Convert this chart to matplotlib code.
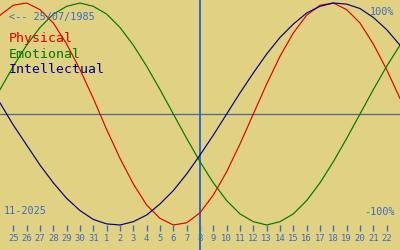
import matplotlib
matplotlib.use("Agg")
import matplotlib.pyplot as plt

# ---- data (percent values read per day, 24 Oct .. 23 Nov) ----
day_labels = ["25", "26", "27", "28", "29", "30", "31", "1", "2", "3", "4", "5", "6", "7",
              "8", "9", "10", "11", "12", "13", "14", "15", "16", "17", "18", "19", "20", "21", "22"]
physical = [89, 98, 100, 94, 82, 63, 40, 14, -14, -40, -63, -82, -94, -100, -98, -89,
            -73, -52, -27, 0, 27, 52, 73, 89, 98, 100, 94, 82, 63, 40, 14]
emotional = [22, 43, 62, 78, 90, 97, 100, 97, 90, 78, 62, 43, 22, 0, -22, -43, -62, -78,
             -90, -97, -100, -97, -90, -78, -62, -43, -22, 0, 22, 43, 62]
intellectual = [10, -10, -28, -46, -62, -76, -87, -95, -99, -100, -97, -91, -81, -69, -54,
                -37, -19, 0, 19, 37, 54, 69, 81, 91, 97, 100, 99, 95, 87, 76, 62]
series_names = ["Physical", "Emotional", "Intellectual"]
birth_label = "<-- 25/07/1985"
month_label = "11-2025"
top_label = "100%"
bottom_label = "-100%"
today_index = 15

# ---- style ----
BG = "#E0D282"
TXT_BLUE = "#3A6CC4"
colors = ["#E00000", "#007800", "#000080"]
MONO = ["DejaVu Sans Mono"]

W, H = 400, 250
fig = plt.figure(figsize=(W / 100, H / 100), dpi=100, facecolor=BG)
ax = fig.add_axes([0, 0, 1, 1], facecolor=BG)
for s in ax.spines.values():
    s.set_visible(False)
ax.set_xticks([])
ax.set_yticks([])

# pixel y = 114 - 1.11 * v
def v_of_py(py):
    return (114 - py) / 1.11

n = len(physical)
ax.set_xlim(0, n - 1)
ax.set_ylim(v_of_py(H), v_of_py(0))

xs = list(range(n))
# midline and today line
ax.axhline(0, color="#4C6A8C", lw=0.9, zorder=1)
ax.axvline(today_index, color="#2F6BD0", lw=1.4, zorder=1)

for vals, c in zip([physical, emotional, intellectual], colors):
    ax.plot(xs, vals, color=c, lw=0.85, zorder=3)

# day ticks and labels
tick_x = list(range(1, 1 + len(day_labels)))
ax.vlines(tick_x, v_of_py(225), v_of_py(230.5), color=TXT_BLUE, lw=1.0, zorder=4)
for x, lab in zip(tick_x, day_labels):
    ax.text(x, v_of_py(238.5), lab, color=TXT_BLUE, fontsize=6.4, family=MONO,
            ha="center", va="center", zorder=5)

def ftext(px, py, s, **kw):
    fig.text(px / W, 1 - py / H, s, family=MONO, **kw)

ftext(9, 16.5, birth_label, color=TXT_BLUE, fontsize=7.3, ha="left", va="center")
for i, (name, c) in enumerate(zip(series_names, colors)):
    ftext(9, 38.5 + i * 15.5, name, color=c, fontsize=9.5, ha="left", va="center")
ftext(4, 211, month_label, color=TXT_BLUE, fontsize=7.3, ha="left", va="center")
ftext(394, 12, top_label, color=TXT_BLUE, fontsize=7.3, ha="right", va="center")
ftext(395, 212, bottom_label, color=TXT_BLUE, fontsize=7.3, ha="right", va="center")

fig.savefig("out.png", dpi=100, facecolor=BG)
